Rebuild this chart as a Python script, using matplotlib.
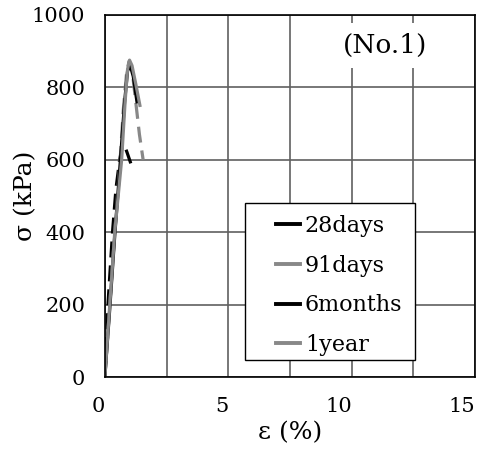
import matplotlib.pyplot as plt
from matplotlib.ticker import MultipleLocator
from matplotlib.patches import Rectangle

# strain (%) / stress (kPa)
eps_28d = [0.0, 0.13, 0.31, 0.45, 0.6, 0.7, 0.78, 0.9, 1.05]
sig_28d = [0, 205, 400, 520, 600, 635, 642, 620, 590]

eps_91d = [0.0, 0.2, 0.4, 0.6, 0.75, 0.88, 0.98, 1.1, 1.25, 1.4, 1.55]
sig_91d = [0, 200, 400, 580, 740, 840, 872, 850, 760, 670, 600]

eps_6m = [0.0, 0.2, 0.4, 0.62, 0.8, 0.92, 1.02, 1.15, 1.3]
sig_6m = [0, 190, 390, 590, 760, 845, 862, 830, 760]

eps_1y = [0.0, 0.2, 0.4, 0.68, 0.82, 0.92, 1.0, 1.1, 1.25, 1.42]
sig_1y = [0, 200, 400, 600, 760, 850, 875, 860, 810, 750]

plt.rcParams['font.family'] = 'DejaVu Serif'

fig = plt.figure(figsize=(4.81, 4.5), dpi=100)
ax = fig.add_axes([0.218, 0.162, 0.77, 0.805])

ax.plot(eps_28d, sig_28d, color='black', lw=2.3, ls=(0, (5, 2.5)), label='28days')
ax.plot(eps_91d, sig_91d, color='#888888', lw=2.3, ls=(0, (5, 2.5)), label='91days')
ax.plot(eps_6m, sig_6m, color='black', lw=2.3, label='6months')
ax.plot(eps_1y, sig_1y, color='#888888', lw=2.3, label='1year')

ax.set_xlim(0, 15)
ax.set_ylim(0, 1000)
ax.xaxis.set_major_locator(MultipleLocator(5))
ax.xaxis.set_minor_locator(MultipleLocator(2.5))
ax.yaxis.set_major_locator(MultipleLocator(200))
ax.grid(True, which='both', color='#606060', lw=1.2)
ax.set_axisbelow(True)
ax.tick_params(which='both', length=0, labelsize=15)
ax.tick_params(axis='x', pad=14)
ax.tick_params(axis='y', pad=14)
for lbl in ax.get_xticklabels():
    lbl.set_ha('right')
for s in ax.spines.values():
    s.set_color('black')
    s.set_linewidth(1.2)

ax.set_xlabel('ε (%)', fontsize=18, labelpad=4)
ax.set_ylabel('σ (kPa)', fontsize=18, labelpad=-4)

ax.text(0.757, 0.915, '(No.1)', transform=ax.transAxes, fontsize=19,
        ha='center', va='center', zorder=5,
        bbox=dict(facecolor='white', edgecolor='none', pad=7))

# legend box drawn separately so the wide left margin can be matched
ax.add_patch(Rectangle((0.378, 0.047), 0.46, 0.433, transform=ax.transAxes,
                       facecolor='white', edgecolor='black', lw=1.0, zorder=5))
leg = ax.legend(loc='upper left', bbox_to_anchor=(0.462, 0.448), fontsize=16,
                handlelength=1.1, handletextpad=0.2, borderpad=0,
                borderaxespad=0, labelspacing=0.8, frameon=False)
leg.set_zorder(6)
for h in leg.get_lines():
    h.set_linestyle('-')
    h.set_linewidth(2.8)

fig.savefig('out.png', dpi=100)
